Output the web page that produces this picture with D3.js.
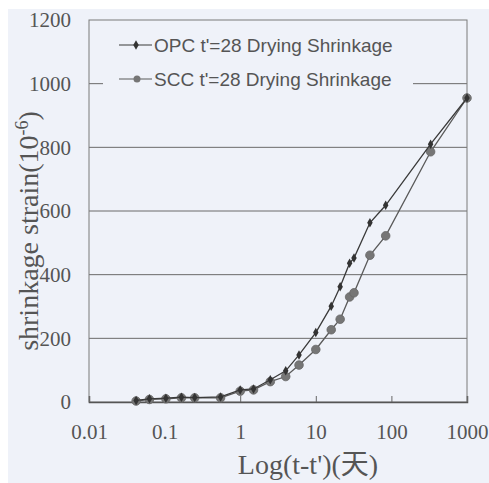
<!DOCTYPE html>
<html>
<head>
<meta charset="utf-8">
<script src="https://cdn.jsdelivr.net/npm/d3@7"></script>
<style>
  body { margin: 0; background: #fff; }
</style>
</head>
<body>
<script>
// age after drying start (days)
var days = [0.042, 0.063, 0.104, 0.167, 0.25, 0.55, 1, 1.5, 2.5, 4, 6, 10, 16, 21, 28, 32, 52, 84, 330, 1000];
var opc = [5, 10, 12, 15, 14, 16, 38, 41, 70, 98, 148, 218, 301, 362, 436, 452, 563, 618, 810, 955];
var scc = [3, 8, 10, 13, 13, 13, 34, 38, 64, 80, 116, 165, 227, 260, 330, 343, 461, 522, 786, 955];
var xTicks = [0.01, 0.1, 1, 10, 100, 1000];
var xTickLabels = ["0.01", "0.1", "1", "10", "100", "1000"];
var yTicks = [0, 200, 400, 600, 800, 1000, 1200];
var seriesNames = ["OPC t'=28 Drying Shrinkage", "SCC t'=28 Drying Shrinkage"];

var width = 489,
    height = 483;

var svg = d3.select("body").append("svg")
    .attr("width", width)
    .attr("height", height)
    .style("display", "block");

// scanned paper tint
svg.append("rect")
    .attr("x", 8).attr("y", 9)
    .attr("width", width - 8).attr("height", height - 9)
    .attr("fill", "#eff2f9");

var x = d3.scaleLog()
    .domain([0.01, 1000])
    .range([89, 467]);

var y = d3.scaleLinear()
    .domain([0, 1200])
    .range([402, 20]);

// grid
svg.append("g")
    .selectAll("line")
    .data(yTicks.filter(function(d) { return d > 0 && d < 1200; }))
    .enter().append("line")
    .attr("x1", x(0.01)).attr("x2", x(1000))
    .attr("y1", function(d) { return y(d); })
    .attr("y2", function(d) { return y(d); })
    .attr("stroke", "#6a6a6a")
    .attr("stroke-width", 1);

// frame
svg.append("rect")
    .attr("x", x(0.01)).attr("y", y(1200))
    .attr("width", x(1000) - x(0.01))
    .attr("height", y(0) - y(1200))
    .attr("fill", "none")
    .attr("stroke", "#7a7a7a")
    .attr("stroke-width", 1);

// x axis (ticks inside)
var xAxis = d3.axisBottom(x)
    .tickValues(xTicks)
    .tickSize(-6)
    .tickFormat(function(d, i) { return xTickLabels[i]; })
    .tickPadding(22);

var gx = svg.append("g")
    .attr("transform", "translate(0," + y(0) + ")")
    .call(xAxis);
gx.select(".domain").attr("stroke", "#555").attr("stroke-width", 1.5);
gx.selectAll(".tick line").attr("stroke", "#666");
gx.selectAll("text")
    .attr("font-family", "'Liberation Serif', 'DejaVu Serif', serif")
    .attr("font-size", 21)
    .attr("fill", "#555");

// y axis labels
var yAxis = d3.axisLeft(y)
    .tickValues(yTicks)
    .tickSize(0)
    .tickFormat(d3.format("d"))
    .tickPadding(18);

var gy = svg.append("g")
    .attr("transform", "translate(" + x(0.01) + ",0)")
    .call(yAxis);
gy.select(".domain").remove();
gy.selectAll("text")
    .attr("font-family", "'Liberation Serif', 'DejaVu Serif', serif")
    .attr("font-size", 21)
    .attr("fill", "#555");

// axis titles
var yTitle = svg.append("text")
    .attr("transform", "translate(38,231) rotate(-90)")
    .attr("text-anchor", "middle")
    .attr("font-family", "'Liberation Serif', 'DejaVu Serif', serif")
    .attr("font-size", 28)
    .attr("fill", "#555");
yTitle.append("tspan").text("shrinkage strain(10");
yTitle.append("tspan").attr("font-size", 18).attr("dy", -10).text("-6");
yTitle.append("tspan").attr("dy", 10).text(")");

svg.append("text")
    .attr("x", 308)
    .attr("y", 474)
    .attr("text-anchor", "middle")
    .attr("font-family", "'Liberation Serif', 'DejaVu Serif', 'Noto Sans CJK TC', serif")
    .attr("font-size", 28)
    .attr("fill", "#555")
    .text("Log(t-t')(天)");

// legend (covers the 1000 grid line)
var legend = svg.append("g");
legend.append("rect")
    .attr("x", 103).attr("y", 28)
    .attr("width", 310).attr("height", 72)
    .attr("fill", "#eff2f9");

var line = d3.line()
    .x(function(d) { return x(d[0]); })
    .y(function(d) { return y(d[1]); });

var diamond = d3.symbol().type(d3.symbolDiamond).size(26);

// SCC series
svg.append("path")
    .datum(d3.zip(days, scc))
    .attr("fill", "none")
    .attr("stroke", "#5a5a5a")
    .attr("stroke-width", 1.3)
    .attr("d", line);

svg.append("g")
    .selectAll("circle")
    .data(d3.zip(days, scc))
    .enter().append("circle")
    .attr("cx", function(d) { return x(d[0]); })
    .attr("cy", function(d) { return y(d[1]); })
    .attr("r", 4.3)
    .attr("fill", "#767676")
    .attr("stroke", "#666")
    .attr("stroke-width", 0.8);

// OPC series
svg.append("path")
    .datum(d3.zip(days, opc))
    .attr("fill", "none")
    .attr("stroke", "#3a3a3a")
    .attr("stroke-width", 1.3)
    .attr("d", line);

svg.append("g")
    .selectAll("path")
    .data(d3.zip(days, opc))
    .enter().append("path")
    .attr("transform", function(d) { return "translate(" + x(d[0]) + "," + y(d[1]) + ")"; })
    .attr("d", diamond)
    .attr("fill", "#333");

// legend entries
var rows = [
  { name: seriesNames[0], y: 45, color: "#3a3a3a", mark: "diamond" },
  { name: seriesNames[1], y: 79, color: "#5a5a5a", mark: "circle" }
];

rows.forEach(function(r) {
  legend.append("line")
      .attr("x1", 119).attr("x2", 152)
      .attr("y1", r.y).attr("y2", r.y)
      .attr("stroke", r.color)
      .attr("stroke-width", 1.2);
  if (r.mark == "diamond") {
    legend.append("path")
        .attr("transform", "translate(136," + r.y + ")")
        .attr("d", diamond)
        .attr("fill", "#333");
  } else {
    legend.append("circle")
        .attr("cx", 137).attr("cy", r.y)
        .attr("r", 3.5)
        .attr("fill", "#767676");
  }
  legend.append("text")
      .attr("x", 154)
      .attr("y", r.y + 7)
      .attr("font-family", "'Liberation Sans', Arial, sans-serif")
      .attr("font-size", 19)
      .attr("fill", "#555")
      .text(r.name);
});
</script>
</body>
</html>
